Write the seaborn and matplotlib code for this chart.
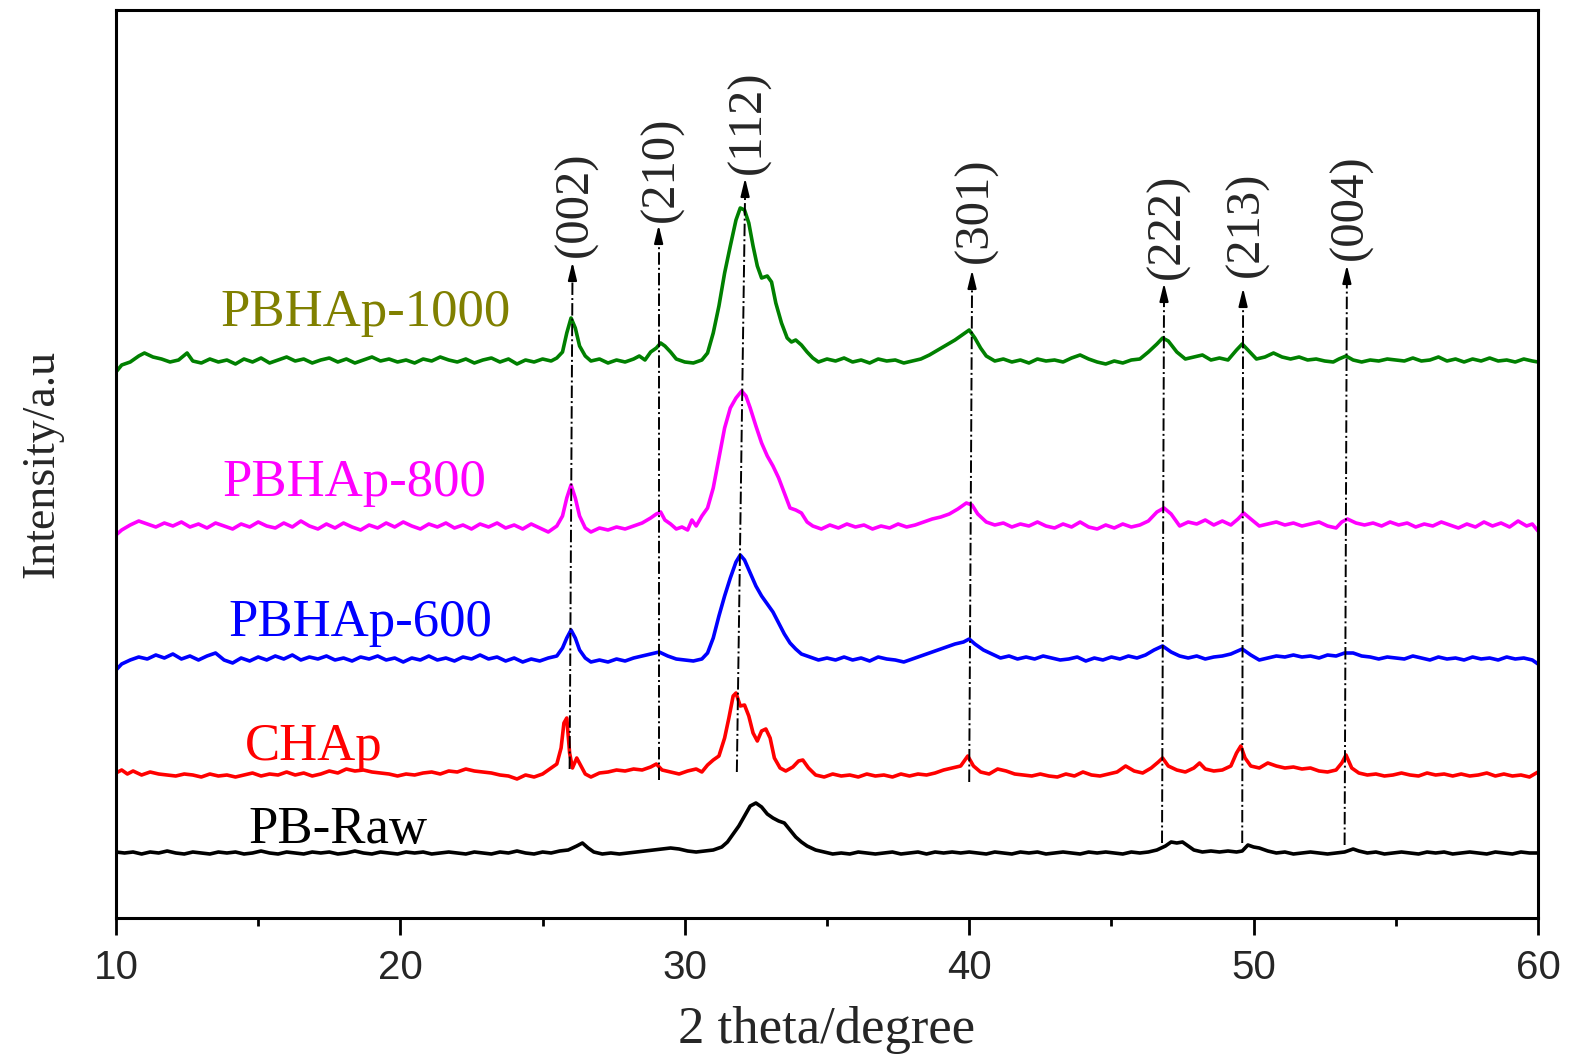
import matplotlib
matplotlib.use("Agg")
import matplotlib.pyplot as plt
import seaborn as sns
import numpy as np

# ---------------- data (2theta in degrees, intensity in arbitrary units incl. stacking offset) -------------
g_x = [10.0,10.2,10.5,10.8,11.0,11.3,11.6,11.9,12.2,12.5,12.7,13.0,13.3,13.6,13.9,14.2,14.5,14.8,15.1,15.4,15.7,16.0,16.3,16.6,16.9,17.2,17.5,17.8,18.1,18.4,18.7,19.0,19.3,19.6,19.9,20.2,20.5,20.8,21.1,21.4,21.7,22.0,22.3,22.6,22.9,23.2,23.5,23.8,24.1,24.4,24.7,25.0,25.3,25.5,25.7,25.85,26.0,26.15,26.3,26.5,26.7,27.0,27.3,27.6,27.9,28.2,28.4,28.6,28.8,29.0,29.15,29.3,29.5,29.7,30.0,30.3,30.6,30.8,31.0,31.2,31.4,31.6,31.8,31.95,32.1,32.25,32.4,32.55,32.7,32.9,33.05,33.2,33.4,33.6,33.75,33.9,34.1,34.3,34.5,34.7,35.0,35.3,35.6,35.9,36.2,36.5,36.8,37.1,37.4,37.7,38.0,38.3,38.6,38.9,39.2,39.5,39.8,40.0,40.2,40.4,40.6,40.9,41.2,41.5,41.8,42.1,42.4,42.7,43.0,43.3,43.6,43.9,44.2,44.5,44.8,45.1,45.4,45.7,46.0,46.3,46.6,46.8,47.0,47.3,47.6,47.9,48.2,48.5,48.8,49.1,49.4,49.6,49.8,50.1,50.4,50.7,51.0,51.3,51.6,51.9,52.2,52.5,52.8,53.0,53.25,53.5,53.8,54.1,54.4,54.7,55.0,55.3,55.6,55.9,56.2,56.5,56.8,57.1,57.4,57.7,58.0,58.3,58.6,58.9,59.2,59.5,59.8,60.0]
g_y = [546,553,556,562,565,561,559,556,558,565,557,555,559,556,558,554,559,556,560,555,558,561,557,559,555,558,560,556,559,555,558,561,557,559,556,558,555,559,557,561,558,556,559,555,558,560,556,559,554,558,556,559,557,560,566,585,600,590,572,562,557,559,555,558,556,559,562,558,566,570,575,572,566,559,556,555,558,565,585,612,645,672,698,710,708,695,672,652,640,642,636,615,595,580,576,578,573,566,560,556,559,557,560,556,558,555,559,557,558,555,557,559,563,568,573,578,584,588,580,570,562,557,559,556,558,555,559,557,558,556,560,563,559,556,554,557,555,558,559,566,574,580,577,566,559,561,563,558,560,558,568,574,568,559,561,565,561,559,561,558,559,557,556,559,562,558,556,558,557,559,558,557,560,557,558,561,557,559,556,559,557,560,557,558,556,559,557,556]

m_x = [10.0,10.2,10.5,10.8,11.1,11.4,11.7,12.0,12.3,12.6,12.9,13.2,13.5,13.8,14.1,14.4,14.7,15.0,15.3,15.6,15.9,16.2,16.5,16.8,17.1,17.4,17.7,18.0,18.3,18.6,18.9,19.2,19.5,19.8,20.1,20.4,20.7,21.0,21.3,21.6,21.9,22.2,22.5,22.8,23.1,23.4,23.7,24.0,24.3,24.6,24.9,25.2,25.5,25.7,25.85,26.0,26.15,26.3,26.5,26.7,27.0,27.3,27.6,27.9,28.2,28.5,28.8,29.0,29.15,29.3,29.5,29.7,29.9,30.1,30.25,30.4,30.6,30.8,31.0,31.2,31.4,31.6,31.8,32.0,32.15,32.3,32.5,32.7,32.9,33.1,33.3,33.5,33.7,33.9,34.1,34.3,34.5,34.8,35.1,35.4,35.7,36.0,36.3,36.6,36.9,37.2,37.5,37.8,38.1,38.4,38.7,39.0,39.3,39.6,39.9,40.1,40.3,40.6,40.9,41.2,41.5,41.8,42.1,42.4,42.7,43.0,43.3,43.6,43.9,44.2,44.5,44.8,45.1,45.4,45.7,46.0,46.3,46.6,46.85,47.1,47.4,47.7,48.0,48.3,48.6,48.9,49.2,49.45,49.65,49.9,50.2,50.5,50.8,51.1,51.4,51.7,52.0,52.3,52.6,52.9,53.1,53.3,53.6,53.9,54.2,54.5,54.8,55.1,55.4,55.7,56.0,56.3,56.6,56.9,57.2,57.5,57.8,58.1,58.4,58.7,59.0,59.3,59.6,59.8,60.0]
m_y = [383,388,393,397,394,391,395,392,396,391,394,390,395,392,389,394,391,396,392,390,395,391,397,392,389,394,390,395,391,388,393,390,395,391,396,392,389,394,391,395,390,393,389,394,391,395,390,393,389,394,390,386,392,402,420,433,420,402,390,386,390,388,391,389,392,395,400,404,406,398,394,389,391,388,398,392,402,410,430,460,490,510,520,527,522,510,492,475,462,452,440,425,410,408,405,396,392,389,393,390,394,391,393,389,392,390,394,391,393,396,399,401,404,409,415,413,404,396,393,395,391,394,392,396,392,390,394,391,396,391,389,393,390,394,391,393,397,406,410,404,392,396,394,398,393,397,393,399,405,399,392,394,396,393,395,392,394,396,392,390,396,399,395,393,395,392,396,393,395,391,394,392,396,393,390,394,391,396,392,395,391,397,392,394,387]

b_x = [10.0,10.2,10.5,10.8,11.1,11.4,11.7,12.0,12.3,12.6,12.9,13.2,13.5,13.8,14.1,14.4,14.7,15.0,15.3,15.6,15.9,16.2,16.5,16.8,17.1,17.4,17.7,18.0,18.3,18.6,18.9,19.2,19.5,19.8,20.1,20.4,20.7,21.0,21.3,21.6,21.9,22.2,22.5,22.8,23.1,23.4,23.7,24.0,24.3,24.6,24.9,25.2,25.5,25.7,25.85,26.0,26.15,26.3,26.5,26.7,27.0,27.3,27.6,27.9,28.2,28.5,28.8,29.1,29.4,29.7,30.0,30.3,30.6,30.8,31.0,31.2,31.4,31.6,31.8,31.95,32.1,32.3,32.5,32.7,32.9,33.1,33.3,33.5,33.7,33.9,34.1,34.4,34.7,35.0,35.3,35.6,35.9,36.2,36.5,36.8,37.1,37.4,37.7,38.0,38.3,38.6,38.9,39.2,39.5,39.8,40.0,40.2,40.5,40.8,41.1,41.4,41.7,42.0,42.3,42.6,42.9,43.2,43.5,43.8,44.1,44.4,44.7,45.0,45.3,45.6,45.9,46.2,46.5,46.8,47.1,47.4,47.7,48.0,48.3,48.6,48.9,49.2,49.6,49.9,50.2,50.5,50.8,51.1,51.4,51.7,52.0,52.3,52.6,52.9,53.2,53.5,53.8,54.1,54.4,54.7,55.0,55.3,55.6,55.9,56.2,56.5,56.8,57.1,57.4,57.7,58.0,58.3,58.6,58.9,59.2,59.5,59.8,60.0]
b_y = [248,254,258,261,259,263,260,264,259,262,258,262,265,258,255,260,257,261,258,262,259,263,258,261,259,262,258,260,257,261,259,262,258,260,256,260,258,262,258,260,257,261,259,263,259,261,257,260,256,259,257,260,262,270,280,288,280,268,260,256,258,256,259,257,260,262,264,266,262,259,258,257,259,265,280,302,322,340,356,363,358,345,332,322,314,306,295,284,275,269,264,261,258,260,258,261,258,260,257,261,259,258,256,259,262,265,268,271,274,276,279,274,268,264,260,262,259,261,259,262,260,258,259,261,257,260,258,261,259,262,260,263,268,272,266,262,260,262,259,261,262,264,269,263,258,260,262,261,263,261,262,260,263,262,265,265,262,261,259,261,260,259,262,260,258,261,259,260,258,261,259,260,258,261,259,260,258,254]

r_x = [10.0,10.2,10.4,10.6,10.9,11.2,11.5,11.8,12.1,12.4,12.7,13.0,13.3,13.6,13.9,14.2,14.5,14.8,15.1,15.4,15.7,16.0,16.3,16.6,16.9,17.2,17.5,17.8,18.1,18.4,18.7,19.0,19.3,19.6,19.9,20.2,20.5,20.8,21.1,21.4,21.7,22.0,22.3,22.6,22.9,23.2,23.5,23.8,24.1,24.4,24.7,25.0,25.3,25.5,25.65,25.75,25.85,25.95,26.05,26.2,26.35,26.5,26.7,27.0,27.3,27.6,27.9,28.2,28.5,28.8,29.0,29.2,29.5,29.8,30.1,30.4,30.6,30.8,31.0,31.2,31.4,31.55,31.7,31.8,31.95,32.1,32.25,32.4,32.55,32.7,32.85,33.0,33.15,33.35,33.55,33.8,34.0,34.15,34.35,34.6,34.9,35.2,35.5,35.8,36.1,36.4,36.7,37.0,37.3,37.6,37.9,38.2,38.5,38.8,39.1,39.4,39.7,39.95,40.15,40.4,40.7,41.0,41.3,41.6,41.9,42.2,42.5,42.8,43.1,43.4,43.7,44.0,44.3,44.6,44.9,45.2,45.5,45.8,46.1,46.4,46.65,46.8,47.0,47.3,47.6,47.9,48.1,48.3,48.6,48.9,49.2,49.4,49.55,49.7,49.9,50.2,50.5,50.8,51.1,51.4,51.7,52.0,52.3,52.6,52.9,53.1,53.25,53.45,53.7,54.0,54.3,54.6,54.9,55.2,55.5,55.8,56.1,56.4,56.7,57.0,57.3,57.6,57.9,58.2,58.5,58.8,59.1,59.4,59.7,60.0]
r_y = [145,148,144,147,143,146,144,143,142,144,143,141,144,142,143,141,143,145,142,144,143,146,143,145,142,144,147,145,149,147,148,146,145,144,142,144,143,145,146,144,147,146,149,147,146,145,143,142,139,143,141,144,150,154,170,195,200,165,150,160,152,144,141,145,146,148,147,149,148,151,154,148,146,144,147,149,146,153,158,162,180,200,222,225,212,213,202,185,177,187,189,180,160,150,147,151,157,158,150,143,141,144,142,143,141,144,142,143,141,144,142,144,143,145,148,150,152,162,152,146,144,149,147,144,143,142,144,142,141,144,142,146,143,142,144,146,152,147,145,150,156,160,152,148,146,150,155,149,147,148,152,165,172,160,152,150,155,152,150,151,149,150,147,146,148,155,163,150,145,143,144,142,143,145,143,142,145,143,144,142,144,142,143,145,142,144,142,143,141,146]

k_x = [10.0,10.3,10.6,10.9,11.2,11.5,11.8,12.1,12.4,12.7,13.0,13.3,13.6,13.9,14.2,14.5,14.8,15.1,15.4,15.7,16.0,16.3,16.6,16.9,17.2,17.5,17.8,18.1,18.4,18.7,19.0,19.3,19.6,19.9,20.2,20.5,20.8,21.1,21.4,21.7,22.0,22.3,22.6,22.9,23.2,23.5,23.8,24.1,24.4,24.7,25.0,25.3,25.6,25.9,26.2,26.4,26.6,26.8,27.1,27.4,27.7,28.0,28.3,28.6,28.9,29.2,29.5,29.8,30.1,30.4,30.7,31.0,31.3,31.5,31.7,31.9,32.1,32.3,32.5,32.7,32.9,33.1,33.3,33.5,33.7,33.9,34.1,34.3,34.6,34.9,35.2,35.5,35.8,36.1,36.4,36.7,37.0,37.3,37.6,37.9,38.2,38.5,38.8,39.1,39.4,39.7,40.0,40.3,40.6,40.9,41.2,41.5,41.8,42.1,42.4,42.7,43.0,43.3,43.6,43.9,44.2,44.5,44.8,45.1,45.4,45.7,46.0,46.3,46.6,46.9,47.1,47.3,47.5,47.7,47.9,48.2,48.5,48.8,49.1,49.4,49.6,49.8,50.0,50.2,50.5,50.8,51.1,51.4,51.7,52.0,52.3,52.6,52.9,53.2,53.5,53.7,54.0,54.3,54.6,54.9,55.2,55.5,55.8,56.1,56.4,56.7,57.0,57.3,57.6,57.9,58.2,58.5,58.8,59.1,59.4,59.7,60.0]
k_y = [66,65,66,64,66,65,67,65,64,66,65,64,66,65,66,64,65,67,65,64,66,65,64,66,65,66,64,65,67,65,64,66,65,64,66,65,66,64,65,66,65,64,66,65,64,66,65,67,65,64,66,65,67,68,72,75,70,66,64,65,64,65,66,67,68,69,70,69,67,66,67,68,71,76,84,92,102,112,115,111,104,100,97,95,88,81,76,72,68,66,64,65,64,66,65,64,65,66,64,65,66,64,66,65,66,65,66,65,64,66,65,64,66,65,66,64,65,66,65,64,66,65,66,65,64,66,65,66,68,72,76,75,76,72,68,66,67,66,67,66,67,73,71,70,67,65,66,64,65,66,65,64,65,66,69,67,65,66,64,65,66,65,64,66,65,66,64,65,66,65,64,66,65,64,66,65,65]

series_names = ["PBHAp-1000", "PBHAp-800", "PBHAp-600", "CHAp", "PB-Raw"]
line_colors = ["#008000", "#FF00FF", "#0000FF", "#FF0000", "#000000"]
label_colors = ["#808000", "#FF00FF", "#0000FF", "#FF0000", "#000000"]
label_x = [13.66, 13.73, 13.94, 14.54, 14.64]
label_y = [592, 422, 282, 158, 75]

# peak markers (hkl)
hkl_labels = ["(002)", "(210)", "(112)", "(301)", "(222)", "(213)", "(004)"]
hkl_top_x = [26.05, 29.08, 32.12, 40.10, 46.85, 49.63, 53.28]
hkl_bot_x = [25.95, 29.08, 31.83, 40.00, 46.78, 49.60, 53.20]
hkl_top_y = [656, 693, 740, 648, 635, 630, 653]
hkl_bot_y = [149, 138, 146, 136, 75, 75, 73]
hkl_text_y = [661, 696, 744, 655, 639, 641, 658]

x_ticks = [10, 20, 30, 40, 50, 60]

# ---------------- plotting ----------------
sns.set_theme(style="white")
plt.rcParams["font.family"] = ["Liberation Serif", "DejaVu Serif"]

fig = plt.figure(figsize=(15.71, 10.60), dpi=100)
ax = fig.add_axes([116/1571, 1 - 918/1060, (1538 - 116)/1571, (918 - 10)/1060])

all_x = [g_x, m_x, b_x, r_x, k_x]
all_y = [g_y, m_y, b_y, r_y, k_y]
for xs, ys, c in zip(all_x, all_y, line_colors):
    sns.lineplot(x=xs, y=ys, ax=ax, color=c, linewidth=2.6, estimator=None, sort=False)

for name, c, lx, ly in zip(series_names, label_colors, label_x, label_y):
    ax.text(lx, ly, name, color=c, fontsize=38, ha="left", va="baseline",
            family=["Liberation Serif", "DejaVu Serif"])

for lab, tx, bx, ty, by, texty in zip(hkl_labels, hkl_top_x, hkl_bot_x, hkl_top_y, hkl_bot_y, hkl_text_y):
    ax.plot([bx, tx], [by, ty - 14], color="black", linestyle="-.", linewidth=1.4)
    ax.annotate("", xy=(tx, ty), xytext=(tx, ty - 18),
                arrowprops=dict(arrowstyle="-|>,head_length=0.9,head_width=0.22",
                                color="black", lw=1.4, shrinkA=0, shrinkB=0))
    ax.text(tx + 0.12, texty, lab, rotation=90, fontsize=35, ha="center", va="bottom",
            family=["Liberation Serif", "DejaVu Serif"])

ax.set_xlim(10, 60)
ax.set_ylim(0, 908)
ax.set_xticks(x_ticks)
ax.set_xticks([15, 25, 35, 45, 55], minor=True)
ax.set_yticks([])
for lbl in ax.get_xticklabels():
    lbl.set_family(["Liberation Sans", "DejaVu Sans"])
ax.tick_params(axis="x", which="major", direction="out", length=12, width=2,
               labelsize=29, pad=10, bottom=True, color="black")
ax.tick_params(axis="x", which="minor", direction="out", length=6, width=2, bottom=True, color="black")

for sp in ax.spines.values():
    sp.set_color("black")
    sp.set_linewidth(2.2)

ax.set_xlabel("2 theta/degree", fontsize=38, labelpad=14)
ax.set_ylabel("Intensity/a.u", fontsize=33, labelpad=38)

fig.savefig("out.png", dpi=100, facecolor="white")
